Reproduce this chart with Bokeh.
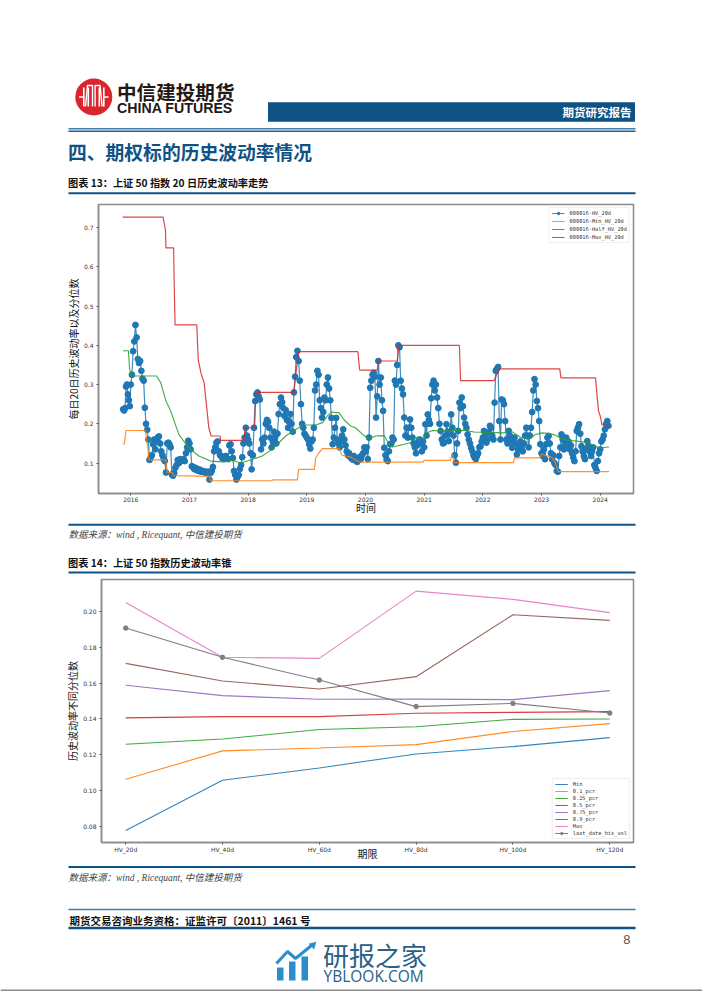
from bokeh.plotting import figure
from bokeh.models import FixedTicker, Legend, LegendItem, NumeralTickFormatter
from bokeh.core.properties import value
from bokeh.embed import file_html
from bokeh.resources import INLINE

# ---------- chart 1 data ----------
hv_2015 = [.237,.234,.24,.295,.30,.275,.26,.245]
hv_2016 = [.30,.325,.385,.41,.452,.42,.365,.355,.36,.335,
           .315,.31,.241,.2,.185,.16,.108,.115,.12,.148,
           .16,.135,.155,.165,.168,.15,.13,.12,.11,.105,
           .076,.15,.152,.148,.14,.071,.068,.075,.088,.095,
           .108,.10,.11,.105,.108,.11,.105,.125,.14,.157]
hv_2017 = [.15,.135,.092,.09,.085,.088,.082,.085,.08,.083,
           .078,.08,.079,.076,.078,.075,.078,.058,.075,.08,
           .09,.13,.14,.152,.155,.13,.12,.118,.112,.115,
           .11,.118,.112,.11,.145,.148,.13,.113,.08,.07,
           .058,.065,.07,.085,.095,.115,.15,.165,.19,.17]
hv_2018 = [.16,.15,.125,.084,.12,.19,.258,.275,.28,.27,
           .262,.135,.16,.15,.165,.20,.21,.205,.19,.165,
           .14,.155,.18,.165,.15,.175,.225,.25,.267,.255,
           .24,.22,.235,.21,.19,.205,.225,.20,.18,.28,
           .32,.37,.386,.36,.31,.25,.20,.19,.175,.17]
hv_2019 = [.165,.16,.148,.137,.155,.16,.19,.285,.30,.335,
           .325,.26,.24,.216,.23,.267,.26,.30,.318,.29,
           .26,.215,.148,.165,.19,.215,.16,.15,.14,.155,
           .17,.186,.16,.145,.13,.12,.125,.115,.112,.109,
           .118,.11,.105,.103,.108,.115,.11,.12,.125,.14]
hv_2020 = [.13,.14,.11,.165,.292,.31,.325,.33,.32,.216,
           .27,.36,.30,.318,.26,.233,.139,.12,.109,.105,
           .13,.148,.15,.165,.16,.31,.30,.35,.40,.395,
           .31,.29,.275,.216,.17,.19,.165,.19,.211,.19,
           .165,.15,.14,.125,.145,.155,.16,.15,.13,.155]
hv_2021 = [.14,.199,.17,.224,.21,.20,.265,.30,.31,.285,
           .30,.267,.24,.20,.182,.16,.15,.152,.17,.199,
           .18,.156,.175,.224,.19,.17,.12,.101,.15,.182,
           .254,.24,.267,.245,.216,.20,.19,.173,.16,.15,
           .139,.13,.12,.114,.11,.118,.125,.14,.143,.155]
hv_2022 = [.165,.182,.17,.152,.16,.18,.195,.19,.17,.16,
           .254,.335,.34,.345,.207,.16,.262,.26,.25,.207,
           .16,.15,.182,.17,.16,.139,.15,.165,.15,.122,
           .135,.148,.155,.14,.13,.15,.17,.19,.17,.14,
           .17,.19,.23,.285,.314,.30,.258,.24,.207,.148]
hv_2023 = [.125,.118,.135,.11,.148,.165,.169,.15,.125,.11,
           .12,.10,.095,.08,.078,.118,.14,.173,.16,.135,
           .15,.165,.143,.155,.135,.145,.125,.114,.105,.13,
           .182,.19,.199,.175,.143,.13,.118,.11,.135,.156,
           .145,.13,.118,.13,.14,.095,.088,.08,.105,.125]
hv_2024 = [.135,.155,.16,.17,.186,.2,.207,.195]

min_t = [2015.87,2015.89,2015.92,2016.25,2016.29,2016.31,2016.60,2016.62,2016.71,2016.73,2017.34,2017.36,2018.40,2018.42,2018.84,2018.86,2019.13,2019.15,2019.20,2019.27,2019.55,2019.60,2019.75,2019.90,2020.98,2021.00,2021.45,2021.47,2021.49,2021.51,2022.52,2022.54,2022.98,2023.00,2023.05,2023.17,2023.24,2023.28,2024.15]
min_v = [.147,.15,.183,.183,.14,.108,.108,.076,.076,.068,.066,.055,.055,.057,.057,.084,.084,.113,.125,.137,.137,.12,.115,.1025,.1025,.107,.107,.121,.121,.101,.101,.1135,.1135,.124,.12,.115,.10,.078,.078]

half_t = [2015.87,2015.96,2015.98,2016.01,2016.44,2016.51,2016.60,2016.68,2016.74,2016.82,2016.94,2017.02,2017.16,2017.36,2017.56,2017.73,2017.87,2018.07,2018.24,2018.41,2018.64,2018.90,2018.95,2019.15,2019.27,2019.35,2019.42,2019.55,2019.63,2019.75,2019.83,2019.95,2020.06,2020.17,2020.32,2020.40,2020.46,2020.77,2020.83,2021.00,2021.05,2021.14,2021.28,2021.51,2021.68,2021.85,2022.36,2022.45,2022.53,2022.64,2022.78,2022.90,2023.01,2023.15,2023.24,2023.33,2023.44,2023.60,2023.78,2023.89,2024.00,2024.15]
half_v = [.386,.386,.34,.322,.322,.305,.258,.233,.207,.173,.148,.135,.118,.105,.103,.107,.10,.109,.118,.135,.169,.194,.197,.197,.203,.22,.23,.228,.211,.194,.19,.173,.162,.169,.17,.148,.141,.152,.165,.166,.177,.183,.182,.182,.184,.179,.177,.183,.177,.166,.16,.173,.177,.175,.171,.163,.158,.156,.152,.143,.139,.141]

max_t = [2015.86,2016.55,2016.59,2016.60,2016.73,2016.74,2016.755,2017.125,2017.15,2017.20,2017.25,2017.30,2017.33,2017.37,2017.52,2017.53,2017.93,2017.95,2018.11,2018.13,2018.78,2018.80,2018.86,2019.87,2019.90,2020.20,2020.22,2020.54,2020.57,2021.60,2021.62,2022.19,2022.28,2023.31,2023.33,2023.92,2023.95,2023.97,2024.00,2024.03,2024.15]
max_v = [.7265,.7265,.695,.648,.648,.556,.452,.452,.362,.327,.305,.233,.19,.169,.169,.158,.158,.19,.19,.28,.28,.31,.384,.384,.337,.337,.36,.36,.40,.40,.31,.31,.34,.34,.317,.317,.266,.233,.22,.197,.197]

hv_blocks = [(2015.87, hv_2015, .13/8), (2016.0, hv_2016, .02), (2017.0, hv_2017, .02), (2018.0, hv_2018, .02),
             (2019.0, hv_2019, .02), (2020.0, hv_2020, .02), (2021.0, hv_2021, .02), (2022.0, hv_2022, .02),
             (2023.0, hv_2023, .02), (2024.0, hv_2024, .02)]
years = [2016, 2017, 2018, 2019, 2020, 2021, 2022, 2023, 2024]
ticks_1 = [.1, .2, .3, .4, .5, .6, .7]

# ---------- chart 2 data ----------
tenors = ["HV_20d", "HV_40d", "HV_60d", "HV_80d", "HV_100d", "HV_120d"]
c_min = [.0778, .1058, .1127, .1205, .1246, .1296]
c_p10 = [.1064, .1222, .1238, .1257, .1330, .1374]
c_p25 = [.1259, .1288, .1341, .1357, .1398, .1400]
c_p50 = [.1406, .1413, .1413, .1432, .1437, .1441]
c_p75 = [.1588, .1530, .1510, .1511, .1508, .1558]
c_p90 = [.1710, .1612, .1567, .1636, .1981, .1950]
c_max = [.2050, .1744, .1738, .2113, .2067, .1993]
c_last = [.1907, .1744, .1617, .1469, .1487, .1433]
ticks_2 = [.08, .10, .12, .14, .16, .18, .20]

T10 = ["#1f77b4", "#ff7f0e", "#2ca02c", "#d62728", "#9467bd", "#8c564b", "#e377c2", "#7f7f7f"]
CJK = value("Noto Sans CJK SC")
NAVY = "#0f5285"
SPINE = "#8a8a8a"
W = 702


def page(top, bottom):
    p = figure(width=W, height=bottom - top, x_range=(0, W), y_range=(bottom, top),
               output_backend="svg", toolbar_location=None,
               x_axis_location=None, y_axis_location=None, outline_line_color=None,
               min_border=0, min_border_left=0, min_border_right=0, min_border_top=0, min_border_bottom=0)
    p.grid.visible = False
    return p


def txt(p, x, y, s, size, color="#000000", font=CJK, style="normal", align="left"):
    p.text([x], [y], text=[s], text_font=font, text_font_size=size, text_font_style=style,
           text_color=color, text_align=align, text_baseline="middle")


def hline(p, y, x0=68, x1=635, color=NAVY, w=2.0):
    p.line([x0, x1], [y, y], line_color=color, line_width=w)


# ---------- header ----------
h = page(0, 195)
h.scatter([93.3], [96.5], size=37, marker="circle", fill_color="#d8262c", line_color=None)
for dx in (-10, -5.5, 5.5, 10):
    h.line([93.3 + dx, 93.3 + dx], [87, 106], line_color="white", line_width=1.6)
h.line([85, 87, 92, 92], [106, 85, 85, 106], line_color="white", line_width=1.4)
h.line([94.6, 94.6, 99.6, 101.6], [106, 85, 85, 106], line_color="white", line_width=1.4)
h.line([78.5, 84], [96.5, 96.5], line_color="white", line_width=1.4)
h.line([102.6, 108], [96.5, 96.5], line_color="white", line_width=1.4)
txt(h, 116.5, 90.5, "中信建投期货", "19.6px", "#231815", style="bold")
txt(h, 116.5, 107, "CHINA FUTURES", "14.2px", "#231815", value("Liberation Sans"), "bold")
h.quad(left=[267.5], right=[634.5], top=[101.7], bottom=[121.3], fill_color=NAVY, line_color=None)
txt(h, 631, 111.8, "期货研究报告", "11.5px", "white", style="bold", align="right")
hline(h, 128.2, color="#3f7fa8", w=1.6)
hline(h, 130.8, color="#1f6090", w=1.6)
txt(h, 67.5, 151, "四、期权标的历史波动率情况", "18.8px", NAVY, style="bold")
txt(h, 67.5, 182, "图表 13：上证 50 指数 20 日历史波动率走势", "10.2px", "#111111", style="bold")
hline(h, 192.8, w=2.0)

# ---------- chart 1 ----------
c1 = figure(width=W, height=327, x_range=(2015.45, 2024.567), y_range=(0.0225, 0.7587),
            output_backend="svg", toolbar_location=None,
            min_border_left=98, min_border_right=69, min_border_top=9, min_border_bottom=29,
            x_axis_label="时间", y_axis_label="每日20日历史波动率以及分位数")
c1.grid.visible = False
hv_t, hv_v = [], []
for start, vals, step in hv_blocks:
    for i, v in enumerate(vals):
        hv_t.append(start + i * step)
        hv_v.append(v)
r_hv = c1.line(hv_t, hv_v, line_color=T10[0], line_width=1.2, line_alpha=.85)
r_hv_m = c1.scatter(hv_t, hv_v, size=5.8, marker="circle", fill_color=T10[0], line_color=T10[0])
r_min = c1.line(min_t, min_v, line_color=T10[1], line_width=1.2, line_alpha=.85)
r_half = c1.line(half_t, half_v, line_color=T10[2], line_width=1.1, line_alpha=.9)
r_max = c1.line(max_t, max_v, line_color=T10[3], line_width=1.2, line_alpha=.85)
c1.xaxis.ticker = FixedTicker(ticks=years)
c1.yaxis.ticker = FixedTicker(ticks=ticks_1)
c1.xaxis.formatter = NumeralTickFormatter(format="0")
c1.yaxis.formatter = NumeralTickFormatter(format="0.0")

leg1 = Legend(items=[LegendItem(label="000016-HV_20d", renderers=[r_hv, r_hv_m]),
                     LegendItem(label="000016-Min_HV_20d", renderers=[r_min]),
                     LegendItem(label="000016-Half_HV_20d", renderers=[r_half]),
                     LegendItem(label="000016-Max_HV_20d", renderers=[r_max])],
              location="top_right", margin=3, padding=2, spacing=2,
              glyph_width=13, glyph_height=6, label_height=6, label_standoff=5,
              label_text_font="DejaVu Sans Mono", label_text_font_size="5.3px", label_text_color="#333333",
              border_line_color="#dddddd", border_line_width=1)
c1.add_layout(leg1)

# ---------- middle ----------
m = page(522, 574)
hline(m, 524.3, w=2.0)
txt(m, 68, 534, "数据来源：wind , Ricequant,  中信建投期货", "9.5px", "#444444",
    value("Liberation Serif, Noto Sans CJK SC"), "italic")
txt(m, 67.5, 562, "图表 14：上证 50 指数历史波动率锥", "10.2px", "#111111", style="bold")
hline(m, 572, w=2.0)

# ---------- chart 2 ----------
c2 = figure(width=W, height=291, x_range=(-0.25, 5.245), y_range=(0.0711, 0.2178),
            output_backend="svg", toolbar_location=None,
            min_border_left=101, min_border_right=69, min_border_top=5, min_border_bottom=23,
            x_axis_label="期限", y_axis_label="历史波动率不同分位数")
c2.grid.visible = False
idx = list(range(len(tenors)))
series2 = [("Min", c_min), ("0.1_pcr", c_p10), ("0.25_pcr", c_p25), ("0.5_pcr", c_p50),
           ("0.75_pcr", c_p75), ("0.9_pcr", c_p90), ("Max", c_max)]
items2 = []
for (name, vals), col in zip(series2, T10):
    r = c2.line(idx, vals, line_color=col, line_width=1.1, line_alpha=.9)
    items2.append(LegendItem(label=name, renderers=[r]))
r_l = c2.line(idx, c_last, line_color=T10[7], line_width=1.1)
r_s = c2.scatter(idx, c_last, size=4.5, marker="circle", fill_color=T10[7], line_color=T10[7])
items2.append(LegendItem(label="last_date_his_vol", renderers=[r_l, r_s]))
c2.xaxis.ticker = FixedTicker(ticks=idx)
c2.xaxis.major_label_overrides = {i: t for i, t in enumerate(tenors)}
c2.yaxis.ticker = FixedTicker(ticks=ticks_2)
c2.yaxis.formatter = NumeralTickFormatter(format="0.00")
leg2 = Legend(items=items2, location="bottom_right", margin=3, padding=2, spacing=1,
              glyph_width=13, glyph_height=6, label_height=6, label_standoff=5,
              label_text_font="DejaVu Sans Mono", label_text_font_size="5.3px", label_text_color="#333333",
              border_line_color="#dddddd", border_line_width=1)
c2.add_layout(leg2)

for c in (c1, c2):
    c.outline_line_color = SPINE
    c.outline_line_width = 1.5
    c.axis.axis_line_color = SPINE
    c.axis.axis_line_width = 1.5
    c.axis.major_tick_line_color = "#555555"
    c.axis.major_tick_out = 2
    c.axis.major_tick_in = 0
    c.axis.minor_tick_line_color = None
    c.axis.major_label_text_font = "DejaVu Sans"
    c.axis.major_label_text_font_size = "6px"
    c.axis.major_label_text_color = "#333333"
    c.axis.major_label_standoff = 3
    c.xaxis.major_label_standoff = 1
    c.axis.axis_label_text_font = "Noto Sans CJK SC"
    c.axis.axis_label_text_font_size = "10px"
    c.axis.axis_label_text_font_style = "normal"
    c.axis.axis_label_text_color = "#111111"
    c.axis.axis_label_standoff = 0
c1.xaxis.axis_label_standoff = -5
c2.xaxis.axis_label_standoff = -10

# ---------- footer ----------
f = page(865, 991)
hline(f, 866.5, w=2.0)
txt(f, 68, 877, "数据来源：wind , Ricequant,  中信建投期货", "9.5px", "#444444",
    value("Liberation Serif, Noto Sans CJK SC"), "italic")
hline(f, 909, color="#3f7fa8", w=1.3)
txt(f, 69, 920, "期货交易咨询业务资格：证监许可〔2011〕1461 号", "10.5px", "#111111", style="bold")
hline(f, 927.5, w=2.4)
txt(f, 630, 939, "8", "13px", "#555555", value("Liberation Sans"), align="right")
f.quad(left=[276.5, 288.5, 301], right=[283, 295, 307.5], top=[967, 961, 956], bottom=[980, 980, 980],
       fill_color="#2b8ecb", line_color=None)
f.line([276, 287, 295, 311], [963, 951, 958, 945], line_color="#2b8ecb", line_width=3)
f.scatter([312.5], [944.5], marker="triangle", size=8, fill_color="#2b8ecb", line_color=None, angle=-0.8)
txt(f, 322.5, 953.5, "研报之家", "26px", "#2a5f88")
txt(f, 323, 975.5, "YBLOOK.COM", "15.5px", "#2a5f88", value("Open Sans"))
hline(f, 990, x0=0, x1=W, color="#8a8a8a", w=2)

open("out.html", "w").write(file_html([h, c1, m, c2, f], INLINE))
